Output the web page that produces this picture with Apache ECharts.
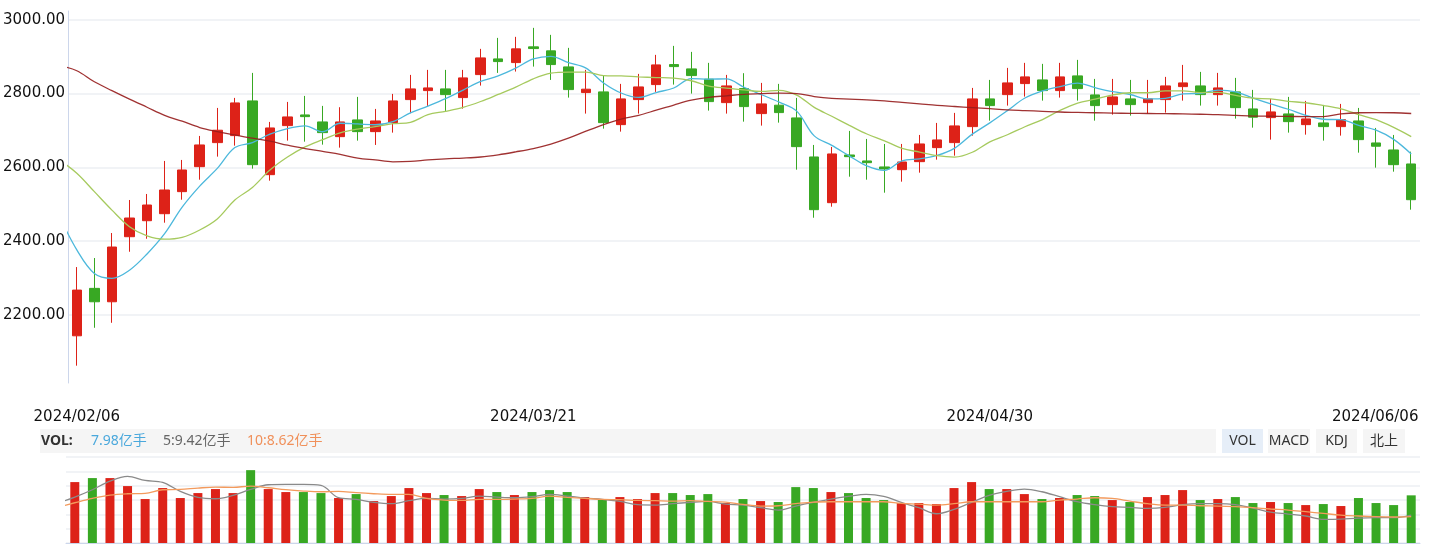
<!DOCTYPE html>
<html>
<head>
<meta charset="utf-8">
<script src="https://cdn.jsdelivr.net/npm/echarts@6/dist/echarts.min.js"></script>
<style>
html,body{margin:0;padding:0;background:#fff;}
#c{width:1430px;height:546px;}
</style>
</head>
<body>
<div id="c"></div>
<script>
const dates = [
'2024/02/06','2024/02/07','2024/02/08','2024/02/19','2024/02/20','2024/02/21','2024/02/22','2024/02/23','2024/02/26','2024/02/27','2024/02/28','2024/02/29',
'2024/03/01','2024/03/04','2024/03/05','2024/03/06','2024/03/07','2024/03/08','2024/03/11','2024/03/12','2024/03/13','2024/03/14','2024/03/15',
'2024/03/18','2024/03/19','2024/03/20','2024/03/21','2024/03/22','2024/03/25','2024/03/26','2024/03/27','2024/03/28','2024/03/29',
'2024/04/01','2024/04/02','2024/04/03','2024/04/08','2024/04/09','2024/04/10','2024/04/11','2024/04/12','2024/04/15','2024/04/16','2024/04/17','2024/04/18','2024/04/19',
'2024/04/22','2024/04/23','2024/04/24','2024/04/25','2024/04/26','2024/04/29','2024/04/30',
'2024/05/06','2024/05/07','2024/05/08','2024/05/09','2024/05/10','2024/05/13','2024/05/14','2024/05/15','2024/05/16','2024/05/17',
'2024/05/20','2024/05/21','2024/05/22','2024/05/23','2024/05/24','2024/05/27','2024/05/28','2024/05/29','2024/05/30','2024/05/31',
'2024/06/03','2024/06/04','2024/06/05','2024/06/06'];

const xTickLabels = ['2024/02/06','2024/03/21','2024/04/30','2024/06/06'];

const opens = [2143,2271.7,2235.3,2411.8,2455.2,2474.2,2534,2601.8,2667,2686,2780.1,2580.1,2713.1,2742.1,2723.1,2683.2,2728.6,2696.8,2721.2,2783.7,2808.1,2812.7,2789.1,2851.5,2894.1,2884.1,2926.7,2915.9,2872.4,2802.7,2804.6,2715.8,2783.7,2824.4,2878.7,2867,2839,2775.5,2813.5,2745.7,2768.5,2734,2628.1,2504.1,2633.5,2617.3,2601,2593.6,2615.4,2653.4,2667,2710.4,2785.6,2797.2,2827.1,2837.1,2808.1,2848,2796.4,2770.1,2785.6,2775.5,2783.7,2818.9,2820.8,2797.2,2804.6,2758.4,2734.8,2744.8,2715.8,2720.4,2710.4,2725.8,2666.1,2647.1,2609.1];
const closes = [2267,2235.3,2383.8,2462.5,2497.8,2538.5,2592.8,2660.7,2700.6,2774.7,2607.2,2706.8,2736.7,2737.5,2694.1,2723.1,2696.8,2725.8,2780.1,2812.7,2815.4,2797.2,2842.6,2896.8,2886.8,2921.3,2922.1,2878.7,2810.8,2811.9,2721.2,2785.6,2818.1,2877.8,2873.2,2848.8,2778.2,2820.8,2764.7,2772,2748.4,2656.1,2485.1,2636.3,2628.9,2612.6,2595.5,2614.5,2663.4,2674.3,2712.3,2785.6,2767.4,2829,2845.3,2808.1,2845.3,2813.5,2767.4,2791,2770.1,2785.6,2820.8,2829,2797.2,2815.4,2761.9,2735.9,2750.3,2723.9,2731.3,2710.4,2729.4,2675.1,2657.2,2607.2,2512.2];
const highs = [2329.5,2354,2421.8,2511.4,2527.7,2617.3,2620,2685.1,2761.1,2788.3,2856.1,2723.1,2777.4,2793.7,2766.6,2763,2791,2758.4,2799.1,2850.7,2864.3,2864.3,2864.3,2921.3,2951.1,2953.9,2978.3,2959.3,2924,2864.3,2848.8,2826.3,2853.4,2905,2929.4,2913.1,2883.3,2850.7,2855.3,2829,2826.3,2788.3,2660.7,2655.3,2698.7,2677,2663.4,2663.4,2687.8,2720.4,2747.6,2815.4,2837.1,2869.7,2883.3,2880.6,2883.3,2891.4,2839.8,2839.8,2837.1,2837.1,2845.3,2877.8,2858.8,2856.1,2842.6,2810,2785.6,2791,2780.1,2769.3,2772,2761.1,2706.8,2687.8,2642.5];
const lows = [2062,2164.8,2178.3,2371,2406.3,2449.8,2512.2,2566.5,2629,2658.8,2596.4,2563.8,2672.4,2669.6,2661.5,2653.4,2672.4,2660.7,2694.1,2746.7,2766.6,2753,2759.2,2821.7,2856.1,2859.7,2873.2,2837.1,2789.1,2745.7,2704.9,2696.8,2745.7,2804.6,2824.4,2800,2753.8,2745.7,2723.9,2713.1,2721.2,2593.6,2463.3,2493.2,2574.6,2566.5,2531.2,2561.1,2585.5,2620.8,2631.6,2686,2726.6,2767.4,2791.8,2780.9,2789.1,2780.9,2726.6,2742.9,2740.2,2745.7,2748.4,2780.9,2767.4,2767.4,2732.1,2707.6,2675.1,2694.1,2688.6,2672.4,2686,2639.8,2599.1,2588.2,2485.1];

// moving averages: first value belongs to the trading day just before the window (drawn clipped at the left edge)
const ma5 = [2468,2376,2312,2299,2321,2365,2420,2492,2549,2597,2653.5,2667.2,2690,2705.2,2712.6,2696.5,2719.6,2717.6,2715.5,2724,2747.7,2766.2,2786.2,2809.6,2832.9,2847.8,2868.9,2893.9,2901.1,2883.9,2869,2828.9,2801.6,2789.5,2802.9,2815.2,2840.7,2839.2,2839.8,2817.1,2796.9,2776.8,2752.4,2685.3,2659.6,2631,2603.8,2591.7,2617.6,2623,2632.1,2652,2690,2720.6,2753.7,2787.9,2807.1,2819,2828.2,2815.9,2805.1,2797.5,2785.5,2787,2799.3,2800.5,2809.6,2804.9,2787.9,2772.1,2757.5,2740.7,2730.4,2729.1,2714,2700.7,2675.9,2636.2];
const ma10 = [2620,2584,2534,2484,2439,2414,2405,2410,2430,2460,2511.4,2545.4,2592.5,2627.8,2655.3,2675,2693.4,2703.8,2710.3,2718.3,2722.1,2742.9,2751.9,2762.5,2778.5,2797.7,2817.6,2840.1,2855.4,2858.4,2858.4,2848.9,2847.8,2845.3,2843.4,2842.1,2834.8,2820.4,2814.6,2810,2806,2808.8,2795.8,2762.5,2738.4,2713.9,2690.3,2672,2651.4,2641.3,2631.5,2627.9,2640.9,2669.1,2688.4,2710,2729.5,2754.5,2774.4,2784.8,2796.5,2802.3,2802.3,2807.6,2807.6,2802.8,2803.5,2795.2,2787.4,2785.7,2779,2775.1,2767.6,2758.5,2743.1,2729.1,2708.3,2683.3];
const ma60 = [2876,2862,2832,2808,2785,2763,2741,2725,2708,2697,2688,2679,2671,2660,2651,2643,2635,2625,2620,2615,2616,2620,2623,2625,2628,2634,2642,2651,2663,2679,2698,2716,2731,2741,2755,2769,2782,2790,2794,2798,2800,2801,2800,2792,2787,2785,2783,2780,2776,2772,2768,2765,2762,2759,2756,2754,2752,2750,2749,2748,2747,2746.5,2746,2745.5,2745,2744,2743,2741,2739,2738.5,2738,2737.5,2737.5,2745,2748,2748.5,2748,2746];

// volume (亿手)
const volumes = [10.2,10.87,10.87,9.53,7.36,9.2,7.53,8.36,9.03,8.36,12.2,9.03,8.53,8.53,8.36,7.53,8.19,7.02,7.86,9.2,8.36,8.03,7.86,9.03,8.53,8.03,8.53,8.86,8.53,7.69,7.36,7.69,7.36,8.36,8.36,8.03,8.19,6.69,7.36,7.02,6.86,9.36,9.2,8.53,8.36,7.53,7.19,6.69,6.69,6.52,9.2,10.2,9.03,9.03,8.19,7.36,7.53,8.03,7.86,7.19,6.86,7.69,8.03,8.86,7.19,7.36,7.69,6.69,6.86,6.69,6.35,6.52,6.19,7.53,6.69,6.35,7.98];
const volMa5 = [6.63,7.69,8.92,10.37,11.15,10.48,10.15,8.64,7.64,7.41,7.97,8.97,9.75,9.81,9.81,9.64,7.58,7.3,6.8,6.58,7.08,7.47,7.36,7.47,7.86,7.69,7.58,7.75,8.14,7.86,7.53,7.3,6.97,6.41,6.35,6.58,6.8,6.97,6.52,6.35,5.91,5.52,6.19,6.8,7.36,7.8,8.14,7.8,6.8,5.91,4.9,5.63,6.8,7.97,8.64,9.03,8.58,7.75,6.91,6.41,6.08,5.96,5.8,5.96,6.41,6.58,6.58,6.41,5.85,5.18,4.85,4.52,3.96,4.01,4.18,4.24,4.24,4.68];
const volMa10 = [5.96,6.74,7.47,8.03,8.25,8.31,8.92,8.97,9.2,9.36,9.31,9.53,9.25,8.92,8.7,8.58,8.64,8.42,8.25,8.14,8.14,7.47,7.19,7.13,7.3,7.3,7.36,7.47,7.86,7.64,7.47,7.3,7.25,7.13,7.08,7.02,7.08,6.97,6.86,6.47,6.19,6.24,6.58,6.86,6.91,6.91,6.91,6.91,6.63,6.52,6.35,6.58,6.91,6.91,6.91,6.91,6.91,7.19,7.36,7.58,7.47,7.02,6.58,6.35,6.35,6.24,6.19,6.08,5.91,5.69,5.52,5.24,4.96,4.68,4.52,4.4,4.35,4.4];

const volLabels = {vol: '7.98亿手', ma5: '5:9.42亿手', ma10: '10:8.62亿手'};
const tabs = ['VOL','MACD','KDJ','北上'];

const RED = '#dd2218', GREEN = '#38a823';
const N = dates.length;
const withPrev = arr => arr.map((v, k) => [k - 1, v]);

const chart = echarts.init(document.getElementById('c'), null, {renderer: 'canvas'});

const candleData = opens.map((o, i) => [o, closes[i], lows[i], highs[i]]);
const volData = volumes.map((v, i) => ({value: v, itemStyle: {color: closes[i] >= opens[i] ? RED : GREEN}}));

const tabX = [1222, 1268, 1316, 1363];
const tabW = [41, 42, 41, 42];
const graphics = [
  {type: 'rect', shape: {x: 40, y: 429, width: 1176, height: 24}, style: {fill: '#f5f5f5'}, silent: true},
  {type: 'text', x: 41, y: 441, style: {text: 'VOL:', fill: '#333', font: 'bold 14px "Noto Sans", sans-serif', verticalAlign: 'middle'}},
  {type: 'text', x: 91, y: 441, style: {text: volLabels.vol, fill: '#4aa8dc', font: '14px "Noto Sans", "Noto Sans CJK SC", sans-serif', verticalAlign: 'middle'}},
  {type: 'text', x: 163, y: 441, style: {text: volLabels.ma5, fill: '#666', font: '14px "Noto Sans", "Noto Sans CJK SC", sans-serif', verticalAlign: 'middle'}},
  {type: 'text', x: 247, y: 441, style: {text: volLabels.ma10, fill: '#f0905a', font: '14px "Noto Sans", "Noto Sans CJK SC", sans-serif', verticalAlign: 'middle'}}
];
tabs.forEach((t, k) => {
  graphics.push({type: 'rect', shape: {x: tabX[k], y: 429, width: tabW[k], height: 24}, style: {fill: k === 0 ? '#e6eef8' : '#f5f5f5'}, silent: true});
  graphics.push({type: 'text', x: tabX[k] + tabW[k] / 2, y: 441, style: {text: t, fill: '#333', font: '14px "Noto Sans", "Noto Sans CJK SC", sans-serif', align: 'center', verticalAlign: 'middle'}});
});

const option = {
  animation: false,
  backgroundColor: '#fff',
  grid: [
    {left: 66, right: 10, top: 11, height: 372},
    {left: 66, right: 10, top: 457, height: 86}
  ],
  xAxis: [
    {type: 'category', gridIndex: 0, data: dates, boundaryGap: true,
     axisLine: {show: false}, axisTick: {show: false}, splitLine: {show: false},
     axisLabel: {
       show: true, margin: 27, color: '#111', fontSize: 15, fontFamily: '"DejaVu Sans", sans-serif',
       interval: (idx, val) => xTickLabels.indexOf(val) >= 0,
       formatter: (val, idx) => idx === N - 1 ? '{r|' + val + '}' : val,
       rich: {r: {fontSize: 15, color: '#111', fontFamily: '"DejaVu Sans", sans-serif', padding: [0, 72, 0, 0]}}
     }},
    {type: 'value', gridIndex: 0, min: -0.5, max: N - 0.5, show: false},
    {type: 'category', gridIndex: 1, data: dates, boundaryGap: true,
     axisLine: {show: true, onZero: false, lineStyle: {color: '#ccd6eb', width: 1}}, axisTick: {show: false}, axisLabel: {show: false}, splitLine: {show: false}},
    {type: 'value', gridIndex: 1, min: -0.5, max: N - 0.5, show: false}
  ],
  yAxis: [
    {type: 'value', gridIndex: 0, min: 2015, max: 3024, splitNumber: 5, scale: true,
     axisLine: {show: true, onZero: false, lineStyle: {color: '#ccd6eb', width: 1}}, axisTick: {show: false},
     axisLabel: {show: true, showMinLabel: false, showMaxLabel: false, margin: 3, color: '#111', fontSize: 15,
                 fontFamily: '"DejaVu Sans", sans-serif', formatter: v => v.toFixed(2)},
     splitLine: {show: true, showMinLine: false, showMaxLine: false, lineStyle: {color: '#f1f3f6', width: 2}}},
    {type: 'value', gridIndex: 1, min: 0, max: 14.4, interval: 2.4,
     axisLine: {show: false}, axisTick: {show: false}, axisLabel: {show: false},
     splitLine: {show: true, lineStyle: {color: '#f1f3f6', width: 2}}}
  ],
  series: [
    {type: 'candlestick', name: 'K', xAxisIndex: 0, yAxisIndex: 0, data: candleData, barWidth: 10,
     itemStyle: {color: RED, color0: GREEN, borderColor: RED, borderColor0: GREEN, borderWidth: 1}},
    {type: 'line', name: 'MA5', xAxisIndex: 1, yAxisIndex: 0, data: withPrev(ma5), smooth: 0.35, showSymbol: false, clip: true,
     lineStyle: {color: '#4cb8dc', width: 1.3}},
    {type: 'line', name: 'MA10', xAxisIndex: 1, yAxisIndex: 0, data: withPrev(ma10), smooth: 0.35, showSymbol: false, clip: true,
     lineStyle: {color: '#a6ca5e', width: 1.3}},
    {type: 'line', name: 'MA60', xAxisIndex: 1, yAxisIndex: 0, data: withPrev(ma60), smooth: 0.35, showSymbol: false, clip: true,
     lineStyle: {color: '#961c1c', width: 1.3, opacity: 0.9}},
    {type: 'bar', name: 'VOL', xAxisIndex: 2, yAxisIndex: 1, data: volData, barWidth: 9},
    {type: 'line', name: 'VMA5', xAxisIndex: 3, yAxisIndex: 1, data: withPrev(volMa5), smooth: 0.35, showSymbol: false, clip: true,
     lineStyle: {color: '#8a8a8a', width: 1.3}},
    {type: 'line', name: 'VMA10', xAxisIndex: 3, yAxisIndex: 1, data: withPrev(volMa10), smooth: 0.35, showSymbol: false, clip: true,
     lineStyle: {color: '#f39a5c', width: 1.3}}
  ],
  graphic: graphics
};
chart.setOption(option);
</script>
</body>
</html>
